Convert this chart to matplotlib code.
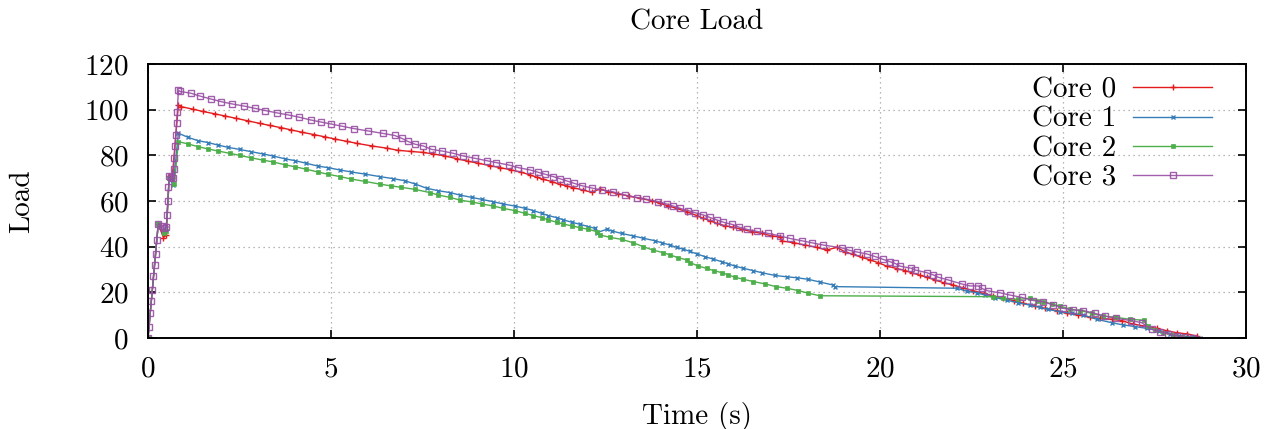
import matplotlib
matplotlib.use("Agg")
import matplotlib.pyplot as plt

plt.rcParams['font.family'] = ['cmr10', 'DejaVu Serif']
plt.rcParams['mathtext.fontset'] = 'cm'
plt.rcParams['axes.formatter.use_mathtext'] = True

title = "Core Load"
xlabel = "Time (s)"
ylabel = "Load"
labels = ["Core 0", "Core 1", "Core 2", "Core 3"]
xticks = [0, 5, 10, 15, 20, 25, 30]
yticks = [0, 20, 40, 60, 80, 100, 120]

core0_t = [0, 0.28, 0.42, 0.5, 0.58, 0.66, 0.83, 0.91, 1.23, 1.5, 1.82, 2.11, 2.41, 2.73, 3.05, 3.32, 3.64,
           3.92, 4.21, 4.53, 4.83, 5.12, 5.44, 5.72, 6.12, 6.54, 6.83, 7.19, 7.5, 7.8, 8.12, 8.44, 8.75,
           9.03, 9.34, 9.62, 9.93, 10.2, 10.44, 10.62, 10.8, 11.03, 11.25, 11.44, 11.62, 11.89, 12.12,
           12.35, 12.58, 12.85, 13.13, 13.44, 13.76, 13.99, 14.22, 14.44, 14.72, 15.0, 15.17, 15.35,
           15.54, 15.76, 15.99, 16.22, 16.49, 16.77, 17.04, 17.28, 17.31, 17.65, 17.96, 18.27, 18.54,
           18.82, 19.04, 19.27, 19.5, 19.73, 19.95, 20.18, 20.46, 20.69, 20.87, 21.1, 21.28, 21.51,
           21.74, 22.0, 22.28, 22.55, 22.83, 23.1, 23.37, 23.65, 23.92, 24.24, 24.51, 24.83, 25.1,
           25.42, 25.74, 26.01, 26.33, 26.6, 26.92, 27.24, 27.56, 27.83, 28.11, 28.38, 28.65]
core0_v = [0, 50, 44, 45, 71, 70, 102, 101.3, 100.2, 99.2, 98.2, 97.2, 96.2, 95.1, 94.0, 93.1, 92.1,
           91.1, 90.1, 89.1, 88.1, 87.1, 86.1, 85.2, 84.1, 83.1, 82.2, 81.7, 81.3, 80.6, 79.7, 78.5, 77.4,
           76.5, 75.5, 74.6, 73.6, 72.6, 71.4, 70.4, 69.5, 68.5, 67.3, 66.6, 65.8, 64.8, 63.8,
           65.3, 64.1, 63.1, 62.2, 61.2, 60.1, 59.0, 57.8, 56.8, 55.3, 53.6, 52.4, 51.4,
           50.2, 49.2, 48.5, 47.6, 46.6, 45.8, 44.7, 44.2, 42.5, 41.7, 40.7, 39.7, 38.5,
           39.7, 37.8, 36.6, 35.3, 34.2, 33.0, 31.5, 30.4, 29.5, 28.6, 27.4, 26.6, 25.4,
           24.2, 23.2, 21.9, 20.7, 19.5, 18.4, 17.4, 16.4, 15.2, 14.0, 13.0, 12.0, 10.8,
           10.1, 9.0, 8.6, 8.2, 7.6, 6.1, 5.2, 4.2, 3.2, 2.3, 1.8, 0.9]

core1_t = [0, 0.28, 0.42, 0.5, 0.58, 0.69, 0.83, 1.09, 1.37, 1.64, 1.91, 2.19, 2.5, 2.82, 3.14, 3.42,
           3.73, 4.01, 4.33, 4.64, 4.92, 5.24, 5.56, 5.92, 6.33, 6.69, 7.01, 7.29, 7.61, 7.93, 8.25,
           8.52, 8.84, 9.12, 9.43, 9.7, 10.02, 10.3, 10.53, 10.76, 10.94, 11.17, 11.35, 11.58, 11.8,
           12.03, 12.21, 12.26, 12.53, 12.67, 12.94, 13.26, 13.53, 13.85, 14.04, 14.26, 14.44, 14.63,
           14.81, 15.0, 15.22, 15.45, 15.68, 15.86, 16.04, 16.27, 16.54, 16.77, 17.13, 17.45, 17.72,
           18.04, 18.36, 18.72, 18.77, 22.1, 22.37, 22.64, 22.87, 23.14, 23.46, 23.78, 24.1, 24.37,
           24.6, 24.92, 25.24, 25.56, 25.92, 26.33, 26.65, 26.97, 27.29, 27.61, 27.93, 28.25, 28.56,
           28.75]
core1_v = [0, 50, 47, 48, 70, 67, 89.7, 87.9, 86.4, 85.6, 84.5, 83.5, 82.6, 81.6, 80.6, 79.7,
           78.5, 77.7, 76.5, 75.3, 74.6, 73.6, 72.7, 71.8, 70.7, 69.8, 68.9, 67.5, 65.6, 64.5, 63.7,
           62.6, 61.6, 60.7, 59.7, 58.7, 57.8, 56.8, 55.8, 54.6, 53.6, 52.7, 51.7, 50.7, 49.8,
           48.8, 48.0, 46.1, 47.6, 46.9, 45.8, 44.7, 43.7, 42.6, 41.7, 40.7, 39.7, 38.9,
           37.9, 36.8, 35.6, 34.5, 33.4, 32.4, 31.5, 30.5, 29.5, 28.6, 27.4, 26.8, 26.4,
           25.7, 24.5, 23.2, 22.5, 21.8, 20.5, 19.8, 18.8, 17.7, 16.6, 15.4, 14.4, 13.4,
           12.5, 11.5, 10.8, 10.1, 8.2, 6.7, 5.7, 5.0, 4.2, 3.2, 1.8, 0.9, 0.3,
           0.0]

core2_t = [0, 0.28, 0.45, 0.5, 0.58, 0.72, 0.83, 1.09, 1.37, 1.64, 1.91, 2.23, 2.5, 2.82, 3.14, 3.42,
           3.73, 4.01, 4.33, 4.64, 4.92, 5.24, 5.56, 5.92, 6.33, 6.65, 6.92, 7.29, 7.7, 7.93, 8.25,
           8.52, 8.84, 9.12, 9.43, 9.7, 10.02, 10.3, 10.53, 10.76, 10.94, 11.17, 11.35, 11.58, 11.8,
           12.03, 12.26, 12.35, 12.62, 12.94, 13.26, 13.53, 13.8, 14.07, 14.26, 14.48, 14.72, 14.81,
           15.04, 15.26, 15.46, 15.68, 15.86, 16.04, 16.27, 16.54, 16.86, 17.16, 17.45, 17.76, 18.04,
           18.36, 23.1, 23.37, 23.78, 24.1, 24.28, 24.46, 24.69, 24.92, 25.19, 25.47, 25.78, 26.1,
           26.46, 26.83, 27.2, 27.33, 27.51, 27.74, 28.01, 28.24, 28.47]
core2_v = [0, 50, 46, 47, 70, 67.5, 86, 85.0, 83.8, 82.8, 81.9, 80.9, 80.0, 78.9, 77.9, 77.1,
           75.9, 75.0, 73.9, 72.7, 71.7, 70.7, 69.6, 68.6, 67.4, 66.6, 66.0, 65.1, 63.7, 62.6, 61.6,
           60.4, 59.6, 58.7, 57.8, 56.8, 55.8, 54.6, 53.6, 52.7, 51.7, 50.7, 49.9, 49.1, 48.3,
           47.6, 46.6, 45.1, 44.1, 43.2, 41.7, 40.0, 38.5, 37.4, 36.4, 35.2, 34.2, 33.0,
           31.5, 30.5, 29.5, 28.6, 27.6, 26.6, 25.7, 24.7, 23.7, 22.5, 21.8, 20.8, 19.6,
           18.5, 18.1, 17.4, 16.9, 17.4, 16.4, 15.9, 14.9, 14.0, 12.6, 12.0, 10.8, 9.6,
           9.0, 8.2, 7.8, 5.2, 3.5, 2.3, 1.3, 0.3, 0.0]

core3_t = [0, 0.03, 0.06, 0.09, 0.12, 0.15, 0.18, 0.21, 0.24, 0.28, 0.37, 0.45, 0.5, 0.52, 0.54, 0.56,
           0.58, 0.63, 0.68, 0.7, 0.72, 0.74, 0.76, 0.78, 0.8, 0.83, 0.87, 1.17, 1.41, 1.71, 2.0, 2.3,
           2.62, 2.91, 3.21,
           3.52, 3.83, 4.13, 4.44, 4.72, 5.01, 5.31, 5.63, 6.01, 6.42, 6.74, 6.94, 7.1, 7.29, 7.52,
           7.75, 8.03, 8.34, 8.62, 8.93, 9.25, 9.52, 9.85, 10.12, 10.44, 10.66, 10.85, 11.07, 11.25,
           11.44, 11.63, 11.85, 12.12, 12.4, 12.71, 13.03, 13.35, 13.62, 13.94, 14.17, 14.35, 14.53,
           14.76, 14.94, 15.17, 15.35, 15.54, 15.72, 15.95, 16.16, 16.36, 16.63, 16.95, 17.27, 17.54,
           17.86, 18.14, 18.45, 18.95, 19.14, 19.36, 19.64, 19.86, 20.07, 20.27, 20.41, 20.54, 20.86,
           20.96, 21.28, 21.46, 21.59, 21.87, 22.23, 22.46, 22.69, 22.78, 22.96, 23.28, 23.55, 23.87,
           24.19, 24.46, 24.74, 25.01, 25.28, 25.56, 25.87, 26.15, 26.46, 26.87, 27.15, 27.42, 27.65,
           27.88, 28.11, 28.33, 28.56]
core3_v = [0, 5, 11, 16, 21, 27, 32, 37, 43, 50, 49, 48, 48.5, 54, 60, 66,
           71, 70.5, 70, 74, 79, 84, 89, 94, 99, 108.6, 108.0, 107.2, 106.0, 104.7, 103.5, 102.5,
           101.6, 100.6, 99.6,
           98.6, 97.7, 96.7, 95.5, 94.6, 93.7, 92.7, 91.7, 90.7, 89.6, 88.7, 87.4, 86.1, 84.9, 84.1,
           82.6, 81.9, 80.9, 79.7, 78.7, 77.7, 76.8, 75.8, 74.6, 73.6, 72.6, 71.7, 70.7, 69.8,
           68.8, 67.8, 66.7, 65.7, 64.8, 64.0, 62.6, 61.5, 60.8, 59.7, 58.7, 57.8, 56.8,
           55.8, 54.9, 53.9, 52.8, 51.7, 50.7, 49.8, 48.5, 47.6, 46.7, 45.8, 44.7, 43.6,
           42.6, 41.7, 40.7, 39.5, 38.5, 37.7, 36.8, 35.7, 34.5, 33.4, 32.7, 31.5, 30.5,
           29.8, 28.6, 27.6, 26.6, 25.4, 23.7, 22.8, 22.8, 21.7, 20.6, 19.8, 18.8, 17.8,
           16.4, 15.9, 14.4, 13.0, 12.3, 12.0, 10.8, 9.6, 8.6, 7.6, 6.7, 3.8, 2.8,
           1.8, 0.9, 0.3, 0.0]

colors = ["#e41a1c", "#377eb8", "#4daf4a", "#984ea3"]

W, H = 1277, 429
fig = plt.figure(figsize=(W / 100, H / 100), dpi=100)
ax = fig.add_axes([148 / W, 1 - 338 / H, (1246 - 148) / W, (338 - 64) / H])

fs = 21
ax.plot(core0_t, core0_v, color=colors[0], lw=1.0, marker='+', ms=5, mew=1.0, label=labels[0])
ax.plot(core1_t, core1_v, color=colors[1], lw=1.0, marker='x', ms=3.5, mew=1.0, label=labels[1])
ax.plot(core2_t, core2_v, color=colors[2], lw=1.0, marker='s', ms=3, mew=0.5, label=labels[2])
ax.plot(core3_t, core3_v, color=colors[3], lw=1.0, marker='s', ms=5, mew=1.0, mfc='none',
        alpha=0.9, label=labels[3])

ax.set_xlim(0, 30)
ax.set_ylim(0, 120)
ax.set_xticks(xticks)
ax.set_yticks(yticks)
ax.tick_params(direction='in', length=6, width=1.2, labelsize=fs, top=True, right=True)
ax.tick_params(axis='y', pad=14)
ax.tick_params(axis='x', pad=13)
ax.grid(True, color='#a0a0a0', linestyle=(0, (1, 3)), linewidth=0.9)
for s in ax.spines.values():
    s.set_linewidth(1.4)

ax.set_title(title, fontsize=fs, pad=25)
ax.set_xlabel(xlabel, fontsize=fs, labelpad=14)
ax.set_ylabel(ylabel, fontsize=fs, labelpad=35)

leg = ax.legend(loc='upper right', bbox_to_anchor=(1 - 34 / 1098, 1 - 13 / 274), frameon=False,
                fontsize=fs, markerfirst=False, numpoints=1, handlelength=2.7,
                handletextpad=0.6, labelspacing=0.1, borderpad=0, borderaxespad=0)

fig.savefig("out.png", dpi=100)
